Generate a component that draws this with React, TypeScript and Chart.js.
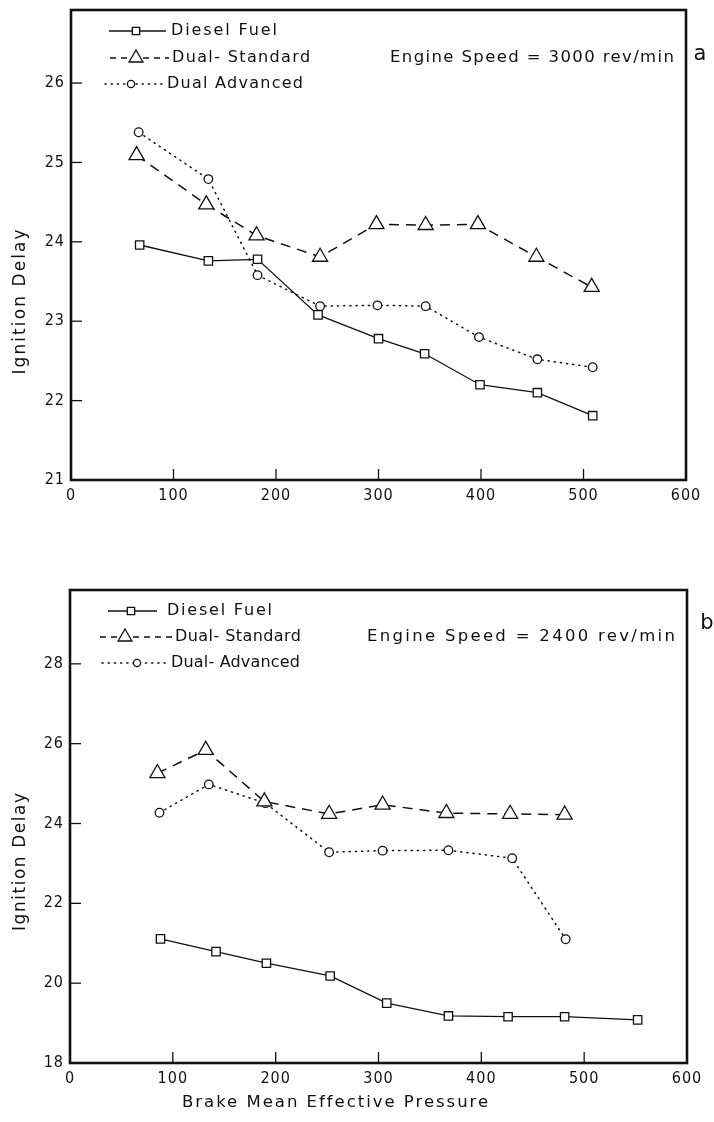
import React, { useEffect, useRef } from "react";
import { Chart, registerables } from "chart.js";

Chart.register(...registerables);

const TICK_FONT = '"DejaVu Sans Condensed", "DejaVu Sans", sans-serif';
const TEXT_FONT = '"DejaVu Sans", "Liberation Sans", sans-serif';
const INK = "#111";

// ---------- data ----------
const xTickValues = [0, 100, 200, 300, 400, 500, 600];
const aYTickValues = [21, 22, 23, 24, 25, 26];
const bYTickValues = [18, 20, 22, 24, 26, 28];

const aDieselX = [67, 134, 182, 241, 300, 345, 399, 455, 509];
const aDieselY = [23.96, 23.76, 23.78, 23.08, 22.78, 22.59, 22.2, 22.1, 21.81];
const aStdX = [64, 132, 181, 243, 298, 346, 397, 454, 508];
const aStdY = [25.09, 24.47, 24.08, 23.81, 24.22, 24.21, 24.22, 23.81, 23.43];
const aAdvX = [66, 134, 182, 243, 299, 346, 398, 455, 509];
const aAdvY = [25.38, 24.79, 23.58, 23.19, 23.2, 23.19, 22.8, 22.52, 22.42];

const bDieselX = [88, 142, 191, 253, 308, 368, 426, 481, 552];
const bDieselY = [21.11, 20.79, 20.5, 20.18, 19.5, 19.18, 19.16, 19.16, 19.08];
const bStdX = [85, 132, 189, 252, 304, 366, 428, 481];
const bStdY = [25.26, 25.84, 24.55, 24.24, 24.47, 24.26, 24.24, 24.22];
const bAdvX = [87, 135, 190, 252, 304, 368, 430, 482];
const bAdvY = [24.27, 24.98, 24.51, 23.28, 23.32, 23.33, 23.13, 21.1];

const aLegendLabels = ["Diesel Fuel", "Dual- Standard", "Dual Advanced"];
const bLegendLabels = ["Diesel Fuel", "Dual- Standard", "Dual- Advanced"];
const aSpeedText = "Engine Speed = 3000 rev/min";
const bSpeedText = "Engine Speed = 2400 rev/min";
const yTitle = "Ignition Delay";
const xTitle = "Brake Mean Effective Pressure";

// ---------- styles ----------
type SeriesStyle = { dash: number[]; cap: CanvasLineCap; point: string; radius: number; width: number; legendR: number; legendDash: number[] };
const seriesStyles: SeriesStyle[] = [
  { dash: [], cap: "butt", point: "rect", radius: 5.9, width: 1.3, legendR: 5.2, legendDash: [] },
  { dash: [10, 7], cap: "butt", point: "triangle", radius: 8.7, width: 1.5, legendR: 8, legendDash: [6, 5] },
  { dash: [1.2, 5], cap: "round", point: "circle", radius: 4.3, width: 1.5, legendR: 3.6, legendDash: [1.2, 5] },
];

const zip = (xs: number[], ys: number[]) => xs.map((x, i) => ({ x, y: ys[i] }));

type TextSpec = { x: number; y: number; w: number };

type PanelCfg = {
  top: number;
  height: number;
  area: { left: number; right: number; top: number; bottom: number };
  yMin: number;
  yMax: number;
  yTicks: number[];
  series: { x: number[]; y: number[] }[];
  legend: string[];
  legendRows: number[];
  legendSample: [number, number, number][];
  legendText: { x: number; w: number }[];
  speedText: string;
  speed: TextSpec;
  letter: string;
  letterPos: [number, number];
  yTitle: { cy: number; w: number };
  xTitle: TextSpec | null;
};

const W = 714;

function drawMarker(ctx: CanvasRenderingContext2D, kind: string, x: number, y: number, r: number) {
  ctx.beginPath();
  if (kind === "rect") {
    const s = Math.SQRT1_2 * r;
    ctx.rect(x - s, y - s, 2 * s, 2 * s);
  } else if (kind === "triangle") {
    for (let i = 0; i < 3; i++) {
      const ang = -Math.PI / 2 + (i * 2 * Math.PI) / 3;
      const px = x + Math.cos(ang) * r;
      const py = y + Math.sin(ang) * r;
      if (i === 0) ctx.moveTo(px, py);
      else ctx.lineTo(px, py);
    }
    ctx.closePath();
  } else {
    ctx.arc(x, y, r, 0, Math.PI * 2);
  }
  ctx.fillStyle = "#fff";
  ctx.fill();
  ctx.stroke();
}

// draw text starting at x (left aligned) spread to a target width
function fitText(ctx: CanvasRenderingContext2D, text: string, x: number, y: number, w: number, size: number) {
  ctx.font = `${size}px ${TEXT_FONT}`;
  (ctx as any).letterSpacing = "0px";
  const natural = ctx.measureText(text).width;
  const n = Math.max(1, text.length - 1);
  const sp = (w - natural) / n;
  (ctx as any).letterSpacing = `${sp.toFixed(2)}px`;
  ctx.textAlign = "left";
  ctx.fillText(text, x, y);
  (ctx as any).letterSpacing = "0px";
}

function makeDecor(cfg: PanelCfg) {
  return {
    id: "panelDecor",
    beforeDraw(chart: any) {
      (chart.ctx as any).letterSpacing = "1px";
    },
    afterDraw(chart: any) {
      const ctx: CanvasRenderingContext2D = chart.ctx;
      const a = chart.chartArea;
      const xs = chart.scales.x;
      const ys = chart.scales.y;
      ctx.save();
      (ctx as any).letterSpacing = "0px";
      // frame
      ctx.strokeStyle = INK;
      ctx.lineWidth = 2.6;
      ctx.setLineDash([]);
      ctx.strokeRect(a.left, a.top, a.right - a.left, a.bottom - a.top);
      // inward ticks
      ctx.lineWidth = 1.3;
      xTickValues.forEach((v) => {
        if (v === xTickValues[0] || v === xTickValues[xTickValues.length - 1]) return;
        const px = xs.getPixelForValue(v);
        ctx.beginPath();
        ctx.moveTo(px, a.bottom);
        ctx.lineTo(px, a.bottom - 11);
        ctx.stroke();
      });
      cfg.yTicks.forEach((v) => {
        if (v === cfg.yMin) return;
        const py = ys.getPixelForValue(v);
        ctx.beginPath();
        ctx.moveTo(a.left, py);
        ctx.lineTo(a.left + 11, py);
        ctx.stroke();
      });
      // legend
      ctx.fillStyle = INK;
      ctx.textBaseline = "middle";
      cfg.legend.forEach((label, i) => {
        const st = seriesStyles[i];
        const y = cfg.legendRows[i];
        const [x1, xm, x2] = cfg.legendSample[i];
        ctx.strokeStyle = INK;
        ctx.lineWidth = st.width;
        ctx.lineCap = st.cap;
        ctx.setLineDash(st.legendDash);
        ctx.beginPath();
        ctx.moveTo(x1, y);
        ctx.lineTo(x2, y);
        ctx.stroke();
        ctx.setLineDash([]);
        ctx.lineCap = "butt";
        ctx.lineWidth = 1.3;
        drawMarker(ctx, st.point, xm, y, st.legendR);
        ctx.fillStyle = INK;
        fitText(ctx, label, cfg.legendText[i].x, y, cfg.legendText[i].w, 16);
      });
      // speed text
      fitText(ctx, cfg.speedText, cfg.speed.x, cfg.speed.y, cfg.speed.w, 16.5);
      // letter
      ctx.font = `21px ${TEXT_FONT}`;
      ctx.textAlign = "center";
      ctx.fillText(cfg.letter, cfg.letterPos[0], cfg.letterPos[1]);
      // y title
      ctx.save();
      ctx.translate(21, cfg.yTitle.cy);
      ctx.rotate(-Math.PI / 2);
      fitText(ctx, yTitle, -cfg.yTitle.w / 2, 0, cfg.yTitle.w, 17);
      ctx.restore();
      // x title
      if (cfg.xTitle) {
        const t = cfg.xTitle;
        fitText(ctx, xTitle, t.x - t.w / 2, t.y, t.w, 16.5);
      }
      ctx.restore();
    },
  };
}

function Panel({ cfg }: { cfg: PanelCfg }) {
  const ref = useRef<HTMLCanvasElement>(null);
  useEffect(() => {
    if (!ref.current) return;
    const datasets = cfg.series.map((s, i) => {
      const st = seriesStyles[i];
      return {
        data: zip(s.x, s.y),
        borderColor: INK,
        borderWidth: st.width,
        borderDash: st.dash,
        borderCapStyle: st.cap,
        pointStyle: st.point,
        pointRadius: st.radius,
        pointBorderWidth: 1.3,
        pointBorderColor: INK,
        pointBackgroundColor: "#fff",
        backgroundColor: "#fff",
        fill: false,
        tension: 0,
      };
    });
    const chart = new Chart(ref.current, {
      type: "line",
      data: { datasets: datasets as any },
      options: {
        animation: false,
        responsive: false,
        events: [],
        layout: {
          padding: { top: cfg.area.top, right: W - cfg.area.right, left: 0, bottom: 0 },
        },
        plugins: { legend: { display: false }, tooltip: { enabled: false } },
        scales: {
          x: {
            type: "linear",
            min: 0,
            max: 600,
            grid: { display: false, drawTicks: false },
            border: { display: false },
            afterBuildTicks: (s: any) => {
              s.ticks = xTickValues.map((v) => ({ value: v }));
            },
            afterFit: (s: any) => {
              s.height = cfg.height - cfg.area.bottom;
              s.paddingLeft = 0;
              s.paddingRight = 0;
            },
            ticks: {
              color: INK,
              padding: 6,
              maxRotation: 0,
              font: { family: TICK_FONT, size: 16 },
            },
          },
          y: {
            type: "linear",
            min: cfg.yMin,
            max: cfg.yMax,
            grid: { display: false, drawTicks: false },
            border: { display: false },
            afterBuildTicks: (s: any) => {
              s.ticks = cfg.yTicks.map((v) => ({ value: v }));
            },
            afterFit: (s: any) => {
              s.width = cfg.area.left;
              s.paddingTop = 0;
              s.paddingBottom = 0;
            },
            ticks: {
              color: INK,
              padding: 6,
              font: { family: TICK_FONT, size: 16 },
            },
          },
        },
      },
      plugins: [makeDecor(cfg)],
    });
    return () => chart.destroy();
  }, [cfg]);
  return (
    <canvas
      ref={ref}
      width={W}
      height={cfg.height}
      style={{ position: "absolute", left: 0, top: cfg.top, width: W, height: cfg.height }}
    />
  );
}

const panelA: PanelCfg = {
  top: 0,
  height: 560,
  area: { left: 71, right: 686, top: 9, bottom: 480 },
  yMin: 21,
  yMax: 26.92,
  yTicks: aYTickValues,
  series: [
    { x: aDieselX, y: aDieselY },
    { x: aStdX, y: aStdY },
    { x: aAdvX, y: aAdvY },
  ],
  legend: aLegendLabels,
  legendRows: [31, 58, 84],
  legendSample: [
    [109, 136, 166],
    [110, 136, 169],
    [105, 131, 164],
  ],
  legendText: [
    { x: 171, w: 106 },
    { x: 172, w: 138 },
    { x: 167, w: 136 },
  ],
  speedText: aSpeedText,
  speed: { x: 390, y: 58, w: 284 },
  letter: "a",
  letterPos: [700, 55],
  yTitle: { cy: 302, w: 145 },
  xTitle: null,
};

const panelB: PanelCfg = {
  top: 560,
  height: 562,
  area: { left: 70, right: 687, top: 30, bottom: 503 },
  yMin: 18,
  yMax: 29.85,
  yTicks: bYTickValues,
  series: [
    { x: bDieselX, y: bDieselY },
    { x: bStdX, y: bStdY },
    { x: bAdvX, y: bAdvY },
  ],
  legend: bLegendLabels,
  legendRows: [51, 77, 103],
  legendSample: [
    [108, 131, 157],
    [100, 125, 172],
    [102, 137, 169],
  ],
  legendText: [
    { x: 167, w: 105 },
    { x: 175, w: 126 },
    { x: 171, w: 129 },
  ],
  speedText: bSpeedText,
  speed: { x: 367, y: 77, w: 308 },
  letter: "b",
  letterPos: [707, 64],
  yTitle: { cy: 302, w: 138 },
  xTitle: { x: 335, y: 543, w: 306 },
};

export default function App() {
  return (
    <div style={{ position: "absolute", left: 0, top: 0, width: W, height: 1122, background: "#fff" }}>
      <Panel cfg={panelA} />
      <Panel cfg={panelB} />
    </div>
  );
}
